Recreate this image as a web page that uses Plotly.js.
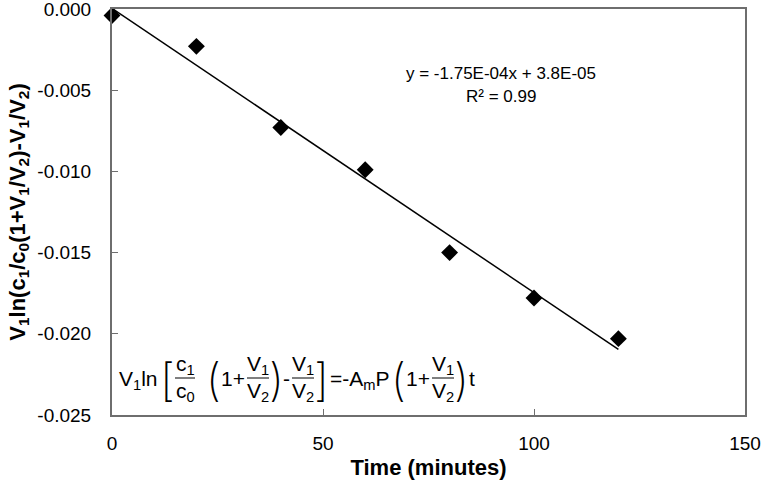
<!DOCTYPE html>
<html>
<head>
<meta charset="utf-8">
<script src="https://cdn.plot.ly/plotly-3.0.1.min.js"></script>
<style>
  html, body { margin: 0; padding: 0; background: #fff; }
  #chart { width: 763px; height: 483px; }
</style>
</head>
<body>
<div id="chart"></div>
<script>
// measured points
const timeMin = [0, 20, 40, 60, 80, 100, 120];
const lnValues = [-0.0004, -0.0023, -0.0073, -0.0099, -0.0150, -0.0178, -0.0203];

// linear trendline ends, as shown in the chart
const fitX = [0, 120];
const fitY = [0.000038, -0.020962];

const fitLabel = 'y = -1.75E-04x + 3.8E-05';
const r2Label = 'R² = 0.99';

// plot box in pixels
const L = 112, R = 745, T = 9, B = 415;
const px = x => (x - L) / (R - L);
const py = y => (B - y) / (B - T);

const font = 'Liberation Sans, Arial, sans-serif';
const thin = 'Inter, DejaVu Sans, sans-serif';

function txt(text, x, y, size, anchor) {
    return {
        text: text, xref: 'paper', yref: 'paper',
        x: px(x), y: py(y),
        xanchor: anchor || 'center', yanchor: 'middle',
        showarrow: false,
        font: {family: font, size: size || 21, color: '#000'}
    };
}

// tall thin brackets and parentheses
function brk(text, x) {
    const a = txt(text, x, 379);
    a.font = {family: thin, size: 45, color: '#000', weight: 200};
    return a;
}

function bar(x0, x1, y) {
    return {
        type: 'line', xref: 'paper', yref: 'paper',
        x0: px(x0), x1: px(x1), y0: py(y), y1: py(y),
        line: {color: '#000', width: 1}
    };
}

// formula pieces: V1 ln[c1/c0(1+V1/V2)-V1/V2] = -AmP(1+V1/V2)t
const eqY = 378, numY = 365, denY = 392, barY = 378;
const annotations = [
    txt(fitLabel, 501, 73, 17),
    txt(r2Label, 501, 96, 17),

    txt('V<sub>1</sub>ln', 117, eqY + 2, 21, 'left'),
    brk('[', 167),
    txt('c<sub>1</sub>', 185, numY), txt('c<sub>0</sub>', 185, denY),
    brk('(', 213),
    txt('1+', 233, eqY),
    txt('V<sub>1</sub>', 258, numY), txt('V<sub>2</sub>', 258, denY),
    brk(')', 276),
    txt('-', 286, eqY),
    txt('V<sub>1</sub>', 303, numY), txt('V<sub>2</sub>', 303, denY),
    brk(']', 321),
    txt('=-A<sub>m</sub>P', 328, eqY + 2, 21, 'left'),
    brk('(', 398),
    txt('1+', 418, eqY),
    txt('V<sub>1</sub>', 443, numY), txt('V<sub>2</sub>', 443, denY),
    brk(')', 461),
    txt('t', 472, eqY)
];

const shapes = [
    bar(175, 195, barY),
    bar(247, 269, barY),
    bar(292, 314, barY),
    bar(432, 454, barY)
];

const traces = [
    {
        x: timeMin, y: lnValues,
        type: 'scatter', mode: 'markers',
        marker: {symbol: 'diamond', size: 13, color: '#000'},
        cliponaxis: false
    },
    {
        x: fitX, y: fitY,
        type: 'scatter', mode: 'lines',
        line: {color: '#000', width: 1.5},
        cliponaxis: false
    }
];

const axisBase = {
    showgrid: false,
    zeroline: false,
    showline: true,
    mirror: true,
    linecolor: '#6e6e6e',
    linewidth: 2,
    ticks: 'inside',
    ticklen: 6,
    tickwidth: 1,
    tickcolor: '#6e6e6e',
    ticklabeloverflow: 'allow',
    tickfont: {family: font, size: 19, color: '#000'}
};

const layout = {
    width: 763,
    height: 483,
    margin: {l: L, r: 763 - R, t: T, b: 483 - B},
    paper_bgcolor: '#fff',
    plot_bgcolor: '#fff',
    showlegend: false,
    xaxis: Object.assign({}, axisBase, {
        range: [0, 150],
        tickvals: [0, 50, 100, 150],
        ticktext: ['0', '50', '100', '150'],
        ticklabelstandoff: 10,
        title: {
            text: 'Time (minutes)',
            font: {family: font, size: 22, color: '#000', weight: 'bold'},
            standoff: 7
        }
    }),
    yaxis: Object.assign({}, axisBase, {
        range: [-0.025, 0],
        tickvals: [0, -0.005, -0.010, -0.015, -0.020, -0.025],
        ticktext: ['0.000', '-0.005', '-0.010', '-0.015', '-0.020', '-0.025'],
        ticklabelstandoff: 15,
        title: {
            text: 'V<sub>1</sub>ln(c<sub>1</sub>/c<sub>0</sub>(1+V<sub>1</sub>/V<sub>2</sub>)-V<sub>1</sub>/V<sub>2</sub>)',
            font: {family: font, size: 22, color: '#000', weight: 'bold'},
            standoff: 6
        }
    }),
    annotations: annotations,
    shapes: shapes
};

Plotly.newPlot('chart', traces, layout, {staticPlot: true});
</script>
</body>
</html>
